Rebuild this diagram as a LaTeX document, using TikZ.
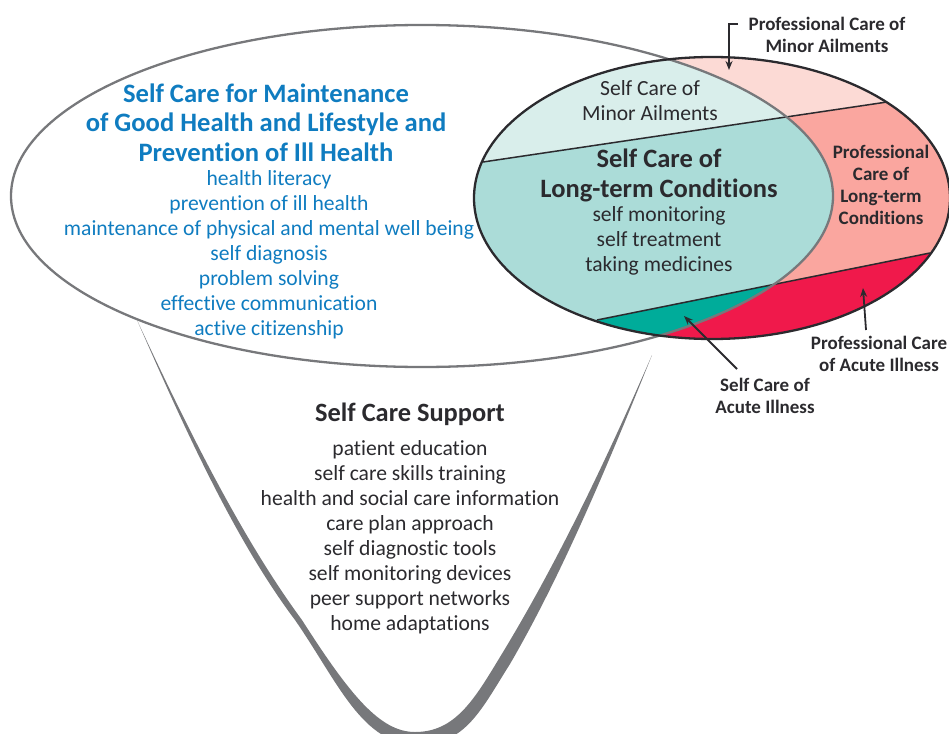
\documentclass[tikz,border=0pt]{standalone}
\usepackage{fontspec}
\setmainfont[Ligatures=NoCommon]{Carlito}
\usetikzlibrary{arrows.meta}
\definecolor{cblue}{HTML}{0F7CC0}
\definecolor{cink}{HTML}{2B2A2E}
\definecolor{cgray}{HTML}{77787B}
\definecolor{pminor}{HTML}{FCDAD5}
\definecolor{plong}{HTML}{FAA69F}
\definecolor{pacute}{HTML}{F0194B}
\definecolor{sminor}{HTML}{D9EEEB}
\definecolor{slong}{HTML}{ABDCD8}
\definecolor{sacute}{HTML}{00AC9A}
\tikzset{
  lbl/.style={align=center,inner sep=0pt,text=cink},
  bluetxt/.style={lbl,text=cblue,font=\fontsize{21.6}{25}\selectfont},
  bluehead/.style={lbl,text=cblue,font=\fontsize{26.6}{29.5}\selectfont\bfseries},
  inktxt/.style={lbl,font=\fontsize{21.6}{25}\selectfont},
  inkhead/.style={lbl,font=\fontsize{26.5}{30}\selectfont\bfseries},
  small/.style={lbl,font=\fontsize{19}{22}\selectfont\bfseries},
  pointer/.style={-{Stealth[length=9pt,width=7pt]},line width=1.8pt,draw=cink},
  chord/.style={line width=1.5pt,draw=cink},
}
\begin{document}
\begin{tikzpicture}[x=1pt,y=-1pt]
\useasboundingbox (0,0) rectangle (949,733);
\begin{scope}
  \clip (0,0) rectangle (949,733);
  % funnel
  \fill[cgray] (137,320) .. controls (185,430) and (235,540) .. (295,620)
     .. controls (338,682) and (362,745) .. (418,745)
     .. controls (466,745) and (482,708) .. (510,664)
     .. controls (560,578) and (606,470) .. (652,355)
     .. controls (604,465) and (555,567) .. (500,657)
     .. controls (474,700) and (455,732) .. (415,732)
     .. controls (380,732) and (350,695) .. (302,620)
     .. controls (243,540) and (188,430) .. (137,320) -- cycle;
  % right ellipse regions
  \begin{scope}
    \clip (712,198) ellipse [x radius=238, y radius=141];
    \fill[pminor] (470,0) -- (949,0) -- (949,92.8) -- (470,164) -- cycle;
    \fill[plong] (470,164) -- (949,92.8) -- (949,249) -- (470,346) -- cycle;
    \fill[pacute] (470,346) -- (949,249) -- (949,345) -- (470,345) -- cycle;
    \begin{scope}
      \clip (422,196) ellipse [x radius=411, y radius=171];
      \fill[sminor] (470,0) -- (949,0) -- (949,92.8) -- (470,164) -- cycle;
      \fill[slong] (470,164) -- (949,92.8) -- (949,249) -- (470,346) -- cycle;
      \fill[sacute] (470,346) -- (949,249) -- (949,345) -- (470,345) -- cycle;
    \end{scope}
    \draw[chord] (483,162) -- (887,102);
    \draw[chord] (597,320) -- (930,253);
  \end{scope}
  \draw[cgray,line width=2.3pt] (422,196) ellipse [x radius=411, y radius=171];
  \draw[cink,line width=2.3pt] (712,198) ellipse [x radius=238, y radius=141];
\end{scope}
% left text
\node[bluehead] (h1) at (266,122.5) {Self Care for Maintenance\\of Good Health and Lifestyle and\\Prevention of Ill Health};
\node[bluetxt] (b1) at (269,254.5) {health literacy\\prevention of ill health\\maintenance of physical and mental well being\\self diagnosis\\problem solving\\effective communication\\active citizenship};
% funnel text
\node[lbl,font=\fontsize{26.4}{29}\selectfont\bfseries] (h2) at (410,414) {Self Care Support};
\node[inktxt] (b2) at (410,537.5) {patient education\\self care skills training\\health and social care information\\care plan approach\\self diagnostic tools\\self monitoring devices\\peer support networks\\home adaptations};
% right ellipse text
\node[inktxt] (m1) at (650,101) {Self Care of\\Minor Ailments};
\node[inkhead] (m2) at (659,175.5) {Self Care of\\Long-term Conditions};
\node[inktxt] (m3) at (659,240.5) {self monitoring\\self treatment\\taking medicines};
\node[small] (p1) at (881,185) {Professional\\Care of\\Long-term\\Conditions};
\node[small] (p2) at (827,35) {Professional Care of\\Minor Ailments};
\node[small] (p3) at (879,354) {Professional Care\\of Acute Illness};
\node[small] (p4) at (765,396) {Self Care of\\Acute Illness};
% pointers
\coordinate (s2) at (738,24);
\coordinate (c2) at (729,24);
\coordinate (t2) at (729,70);
\coordinate (s3) at (866,330);
\coordinate (t3) at (863,288);
\coordinate (s4) at (737,369);
\coordinate (t4) at (684,316);
\draw[pointer] (s2) -- (c2) -- (t2);
\draw[pointer] (s3) -- (t3);
\draw[pointer] (s4) -- (t4);
\end{tikzpicture}
\end{document}
